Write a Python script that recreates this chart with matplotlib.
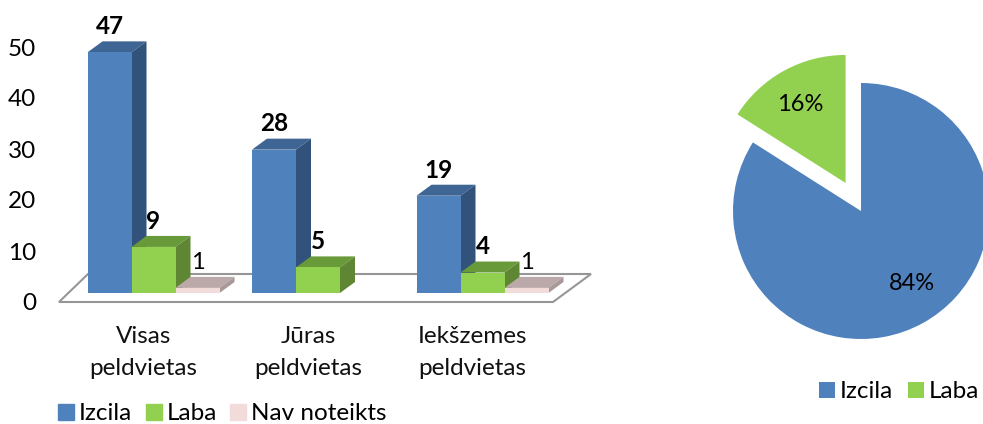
import matplotlib.pyplot as plt
from matplotlib.patches import Patch, Polygon

plt.rcParams["font.family"] = ["Lato", "DejaVu Sans"]

categories = ["Visas\npeldvietas", "Jūras\npeldvietas", "Iekšzemes\npeldvietas"]
series_names = ["Izcila", "Laba", "Nav noteikts"]
izcila = [47, 28, 19]
laba = [9, 5, 4]
nav_noteikts = [1, 0, 1]
y_ticks = [0, 10, 20, 30, 40, 50]

pie_names = ["Izcila", "Laba"]
pie_values = [84, 16]

front_colors = ["#4F81BD", "#92D050", "#F2DCDB"]
top_colors = ["#3E6594", "#689A3A", "#BBA8A8"]
side_colors = ["#31527A", "#5F8633", "#A89898"]

W, H = 983, 424
PX_X = 164.5  # pixels per category
PX_Y = 5.12  # pixels per value unit
BASE_Y = 293
FIRST_X = 153.5
DX = 15 / PX_X
DY = 11 / PX_Y
BAR = 44 / PX_X


def axes_px(left, top, right, bottom):
    return fig.add_axes([left / W, 1 - bottom / H, (right - left) / W, (bottom - top) / H])


fig = plt.figure(figsize=(W / 100, H / 100), dpi=100)

# tick labels sit lower than the bars, on the 3d wall of the original
tick_ax = axes_px(0, 302 - 55 * 5.1, 600, 302)
tick_ax.set_ylim(0, 55)
tick_ax.set_xticks([])
tick_ax.set_yticks(y_ticks)
tick_ax.tick_params(axis="y", length=0, pad=-26, labelsize=17.5)
for spine in tick_ax.spines.values():
    spine.set_visible(False)
tick_ax.patch.set_alpha(0)

ax = axes_px(0, 0, 600, BASE_Y)
ax.set_xlim(-FIRST_X / PX_X, (600 - FIRST_X) / PX_X)
ax.set_ylim(0, BASE_Y / PX_Y)
ax.axis("off")

# floor
fl, fr = (59 - FIRST_X) / PX_X, (553 - FIRST_X) / PX_X
floor_front, floor_back = -9 / PX_Y, 19 / PX_Y
ax.add_patch(Polygon(
    [(fl, floor_front), (fr, floor_front), (fr + 38 / PX_X, floor_back), (fl + 29 / PX_X, floor_back)],
    closed=True, facecolor="white", edgecolor="#969696", linewidth=1.5, clip_on=False, zorder=1,
))

zorder = 5
for cat in range(len(categories)):
    for s, values in enumerate([izcila, laba, nav_noteikts]):
        x = cat + (s - 1) * BAR
        v = values[cat]
        if v == 0:
            continue
        ax.bar(x, v, width=BAR, color=front_colors[s], zorder=zorder + 2, clip_on=False)
        x0, x1 = x - BAR / 2, x + BAR / 2
        ax.add_patch(Polygon([(x0, v), (x1, v), (x1 + DX, v + DY), (x0 + DX, v + DY)],
                             closed=True, color=top_colors[s], lw=0, zorder=zorder + 1, clip_on=False))
        ax.add_patch(Polygon([(x1, 0), (x1 + DX, DY), (x1 + DX, v + DY), (x1, v)],
                             closed=True, color=side_colors[s], lw=0, zorder=zorder + 1, clip_on=False))
        ax.annotate(str(v), (x, v), xytext=(0, 18.5), textcoords="offset points",
                    ha="center", va="center", fontsize=17.5 if s < 2 else 17,
                    fontweight="bold" if s < 2 else "normal", color="black", zorder=30)
        zorder += 3
    ax.text(cat - 10 / PX_X, -33 / PX_Y, categories[cat], ha="center", va="top",
            fontsize=17.5, linespacing=1.65, clip_on=False, color="#111111")

handles = [Patch(color=c) for c in front_colors]
fig.legend(handles, series_names, loc="center left", bbox_to_anchor=(58 / W, 1 - 414 / H),
           ncol=3, frameon=False, fontsize=17.5, handlelength=0.66, handleheight=0.66,
           handletextpad=0.2, columnspacing=0.55, borderaxespad=0, borderpad=0)

# pie, radius 128px around (861, 211)
pie_ax = axes_px(861 - 166, 211 - 166, 861 + 166, 211 + 166)
wedges, _ = pie_ax.pie(pie_values, colors=front_colors[:2], explode=[0, 0.25],
                       startangle=90, counterclock=False, radius=1)
pie_ax.set_xlim(-166 / 128, 166 / 128)
pie_ax.set_ylim(-166 / 128, 166 / 128)
pie_ax.text(51 / 128, -73 / 128, f"{pie_values[0]}%", ha="center", va="center", fontsize=17)
pie_ax.text(-61 / 128, 107 / 128, f"{pie_values[1]}%", ha="center", va="center", fontsize=17)

fig.legend(wedges, pie_names, loc="center left", bbox_to_anchor=(819 / W, 1 - 392 / H),
           ncol=2, frameon=False, fontsize=17.5, handlelength=0.66, handleheight=0.66,
           handletextpad=0.2, columnspacing=0.6, borderaxespad=0, borderpad=0)

fig.savefig("out.png", dpi=100)
